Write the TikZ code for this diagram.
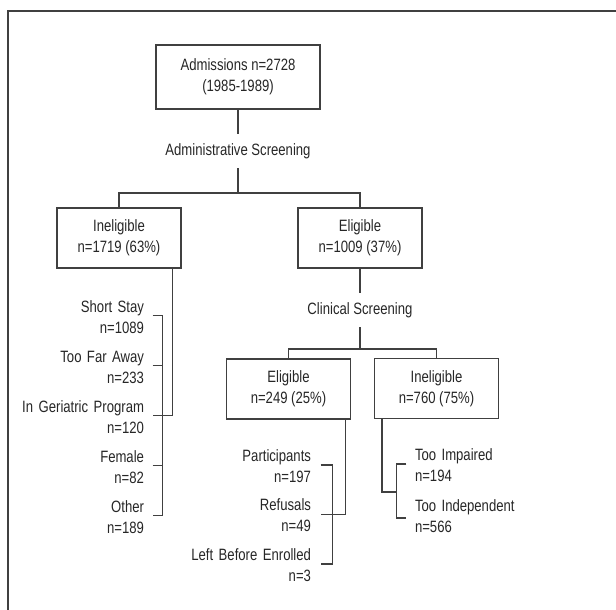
\documentclass[tikz,border=0pt]{standalone}
\usepackage{fontspec}
\setmainfont[FakeStretch=0.8]{Liberation Sans}
\usetikzlibrary{positioning}
\tikzset{
  every node/.style={font=\fontsize{16.4pt}{21pt}\selectfont, text=black!85},
  box/.style={draw, minimum width=124pt, minimum height=60pt, align=center},
  screen/.style={inner xsep=2pt, inner ysep=9pt},
  lstright/.style={text width=130pt, align=right, inner sep=0pt},
  lstleft/.style={text width=120pt, align=left, inner sep=0pt},
}
\begin{document}
\begin{tikzpicture}[x=1pt, y=-1pt, line width=1.1pt, draw=black!75]
  \useasboundingbox (0,0) rectangle (616,610);
  \draw (8,610) -- (8,11) -- (616,11);

  \node[box, minimum width=164pt, minimum height=64pt] (adm) at (238,77) {Admissions n=2728\\(1985-1989)};
  \node[screen] (as) at (238,151) {Administrative Screening};
  \coordinate (fork1) at (238,193);

  \node[box] (inel) at (119,238) {Ineligible\\n=1719 (63\%)};
  \node[box] (elig) at (360,238) {Eligible\\n=1009 (37\%)};

  \node[screen] (cs) at (360,310) {Clinical Screening};
  \coordinate (fork2) at (360,349);

  \node[box] (elig2) at (288.5,389) {Eligible\\n=249 (25\%)};
  \node[box] (inel2) at (436.5,388.5) {Ineligible\\n=760 (75\%)};

  % reasons, ineligible
  \node[lstright, node distance=50pt] (ss) at (79,317.5) {Short Stay\\n=1089};
  \node[lstright, node distance=50pt, below of=ss] (tf) {Too Far Away\\n=233};
  \node[lstright, node distance=50pt, below of=tf] (ig) {In Geriatric Program\\n=120};
  \node[lstright, node distance=50pt, below of=ig] (fe) {Female\\n=82};
  \node[lstright, node distance=50pt, below of=fe] (ot) {Other\\n=189};

  % outcome, eligible
  \node[lstright, node distance=49.5pt] (pa) at (246,466) {Participants\\n=197};
  \node[lstright, node distance=49.5pt, below of=pa] (rf) {Refusals\\n=49};
  \node[lstright, node distance=49.5pt, below of=rf] (lb) {Left Before Enrolled\\n=3};

  % reasons, clinically ineligible
  \node[lstleft, node distance=51pt] (ti) at (475,465.5) {Too Impaired\\n=194};
  \node[lstleft, node distance=51pt, below of=ti] (tn) {Too Independent\\n=566};
  \coordinate (j3) at (397,492);

  \draw (adm) -- (as);
  \draw (as) -- (fork1);
  \draw (inel.north) |- (fork1) -| (elig.north);
  \draw (elig) -- (cs);
  \draw (cs) -- (fork2);
  \draw (elig2.north) |- (fork2) -| (inel2.north);

  \draw ([xshift=8pt,yshift=2pt]ss.east) -- ++(10,0) |- ([xshift=8pt,yshift=2pt]ot.east);
  \draw ([xshift=8pt,yshift=2pt]tf.east) -- ++(10,0);
  \draw ([xshift=8pt,yshift=2pt]fe.east) -- ++(10,0);
  \draw ([xshift=-9pt]inel.south east) |- ([xshift=8pt,yshift=2pt]ig.east);

  \draw ([xshift=9pt,yshift=1pt]pa.east) -- ++(12,0) |- ([xshift=9pt,yshift=1pt]lb.east);
  \draw ([xshift=-6pt]elig2.south east) |- ([xshift=9pt,yshift=1pt]rf.east);

  \draw ([xshift=-8pt,yshift=1.5pt]ti.west) -- ++(-10,0) |- ([xshift=-8pt,yshift=-1.5pt]tn.west);
  \draw ([xshift=8pt]inel2.south west) |- (j3);
\end{tikzpicture}
\end{document}
